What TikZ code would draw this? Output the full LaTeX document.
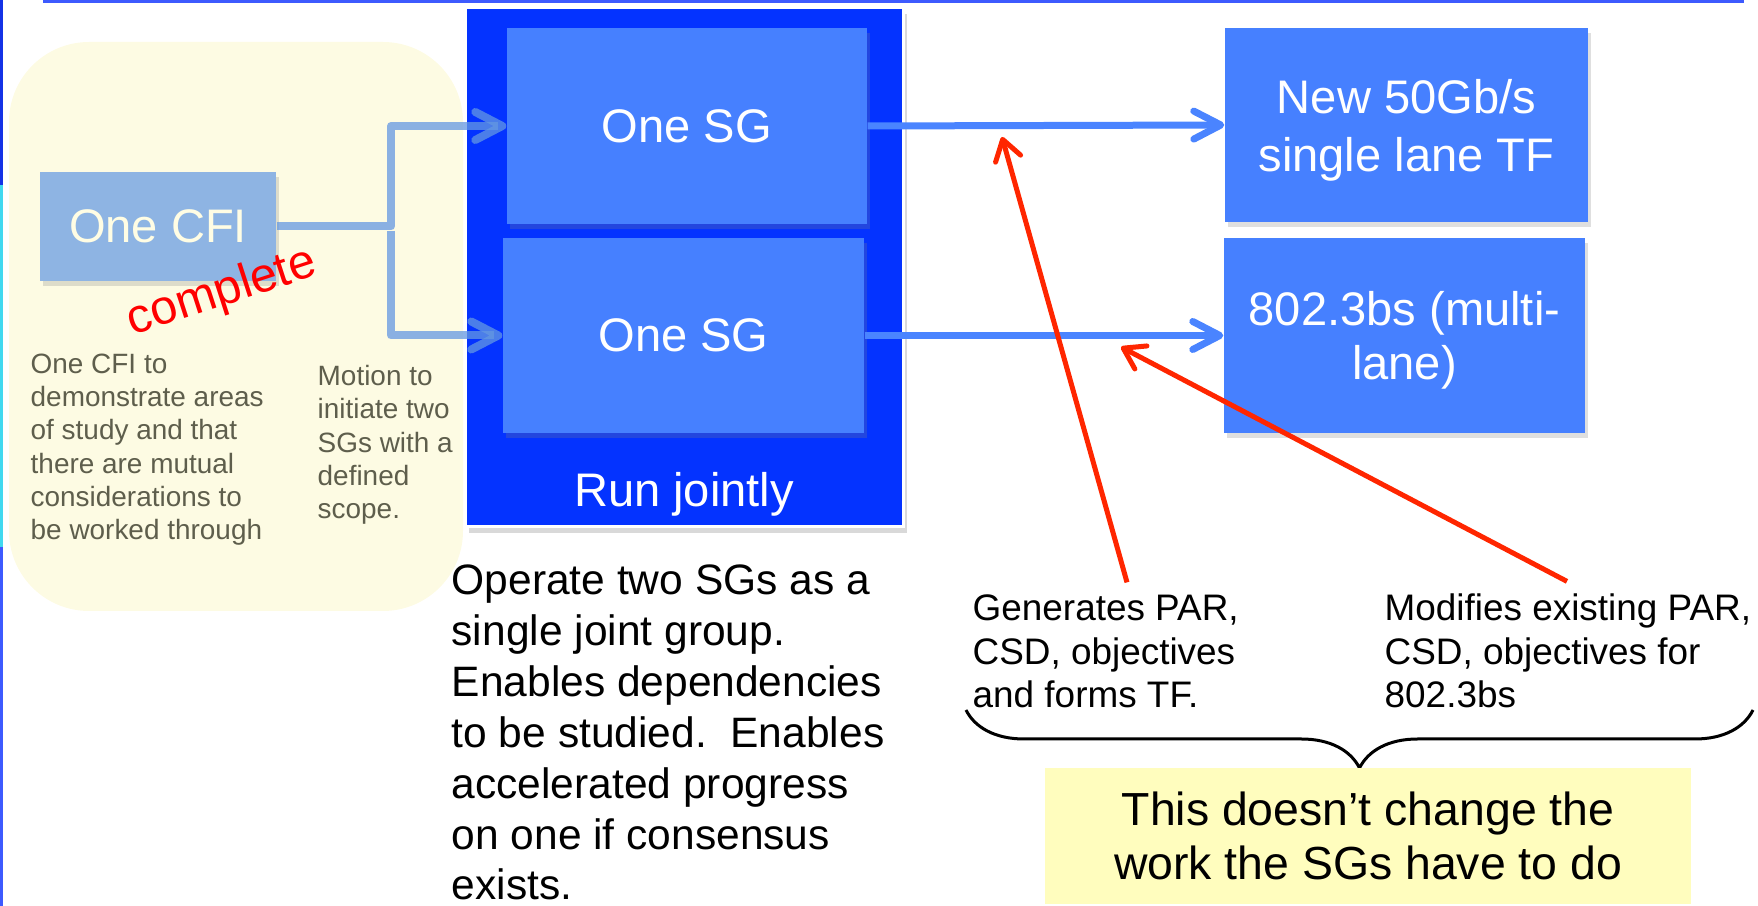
\documentclass[tikz,border=0pt]{standalone}
\usepackage{fontspec}
\setmainfont{Liberation Sans}
\usetikzlibrary{arrows.meta,positioning,shadows,decorations.pathreplacing}
\definecolor{creamfill}{HTML}{FDFBE3}
\definecolor{cfiblue}{HTML}{8EB4E3}
\definecolor{cfitext}{HTML}{FFFDE4}
\definecolor{jointblue}{HTML}{0433FF}
\definecolor{sgblue}{HTML}{4680FF}
\definecolor{linkblue}{HTML}{4A84FF}
\definecolor{feedblue}{HTML}{6498E2}
\definecolor{hintred}{HTML}{FF2600}
\definecolor{notegray}{HTML}{5E5E4C}
\definecolor{noteyellow}{HTML}{FFFDBE}
\definecolor{rimblue}{HTML}{3D5AFE}
\definecolor{rimdark}{HTML}{1432E6}
\definecolor{rimcyan}{HTML}{40D8F0}

\begin{document}
\begin{tikzpicture}[x=0.1mm,y=-0.1mm,
  box/.style={fill=sgblue,text=white,inner sep=0pt,align=center,text depth=0pt,font=\fontsize{13.4}{15.5}\selectfont,
    drop shadow={shadow xshift=0.3mm,shadow yshift=-0.5mm,opacity=0.25}},
  note/.style={anchor=base west,inner sep=0pt,align=left,text=notegray,font=\fontsize{7.95}{9.5}\selectfont},
  body/.style={anchor=base west,inner sep=0pt,align=left,font=\fontsize{10.5}{12.4}\selectfont},
  feed/.style={draw=feedblue,line width=0.8mm,draw opacity=0.75,line join=round,-{Straight Barb[length=2.7mm,width=2.8mm,round]}},
  link/.style={draw=linkblue,line width=0.7mm,-{Straight Barb[length=2.7mm,width=2.8mm,round]}},
  hint/.style={draw=hintred,line width=0.5mm,-{Straight Barb[length=2mm,width=2.6mm,round]}}]
\useasboundingbox (0,0) rectangle (1758,906);
% slide edges
\fill[rimblue] (43,0) rectangle (1744,3);
\fill[rimdark] (0,0) rectangle (3,185);
\fill[rimcyan] (0,185) rectangle (3,547);
\fill[rimblue] (0,547) rectangle (3,906);
% CFI zone (text nodes sit on their last baseline)
\fill[creamfill,rounded corners=8mm] (9,42) rectangle (463,611);
\node[box,fill=cfiblue,text=cfitext,minimum width=23.6mm,minimum height=10.9mm] (cfi) at (158,226.5) {One CFI};
\node[rotate=18,text=red,font=\fontsize{13.8}{16}\selectfont] (done) at (222,293) {complete};
\node[note] (cfinote) at (30,540) {One CFI to\\demonstrate areas\\of study and that\\there are mutual\\considerations to\\be worked through};
\node[note] (motnote) at (317,519) {Motion to\\initiate two\\SGs with a\\defined\\scope.};
% joint SGs
\node[draw=white,line width=0.3mm,fill=jointblue,minimum width=43.8mm,minimum height=51.9mm,
  drop shadow={shadow xshift=0.4mm,shadow yshift=-0.6mm,opacity=0.3}] (joint) at (684,267.5) {};
\node[box,minimum width=36mm,minimum height=19.6mm] (sg1) at (687,126) {One SG};
\node[box,minimum width=36.1mm,minimum height=19.5mm] (sg2) at (683.5,335.5) {One SG};
\node[anchor=base,text=white,font=\fontsize{13.4}{16}\selectfont] (runlbl) at (684,507) {Run jointly};
\node[body,font=\fontsize{12.1}{14.5}\selectfont] (opnote) at (451,900) {Operate two SGs as a\\single joint group.\\Enables dependencies\\to be studied.\ \ Enables\\accelerated progress\\on one if consensus\\exists.};
% outcomes
\node[box,minimum width=36.3mm,minimum height=19.4mm,font=\fontsize{13.4}{16.5}\selectfont] (tf) at (1406.5,125) {New 50Gb/s\\single lane TF};
\node[box,minimum width=36.1mm,minimum height=19.5mm] (bs) at (1404.5,335.5) {802.3bs (multi-\\lane)};
% connectors
\coordinate (split) at (391,226.5);
\coordinate (splitlow) at (391,231);
\draw[feed] (cfi.east) -- (split) |- (sg1.west);
\draw[feed] (splitlow) |- (sg2.west);
\foreach \x/\y in {sg1/tf,sg2/bs} \draw[link] (\x.east) -- (\y.west);
% what each SG does
\node[body] (gennote) at (972,708) {Generates PAR,\\CSD, objectives\\and forms TF.};
\node[body] (modnote) at (1384,708) {Modifies existing PAR,\\CSD, objectives for\\802.3bs};
\coordinate (tfhit) at (1002,137);
\coordinate (bshit) at (1121,347);
\draw[hint] ([shift={(155,-12)}]gennote.north west) -- (tfhit);
\draw[hint] ([shift={(183,-12)}]modnote.north west) -- (bshit);
\coordinate (bracel) at (966,710);
\coordinate (bracer) at (1753,710);
\draw[line width=0.3mm,decorate,decoration={brace,amplitude=5.8mm,mirror}] (bracel) -- (bracer);
\node[fill=noteyellow,minimum width=64.6mm,minimum height=13.6mm,align=center,
  font=\fontsize{13.2}{15.6}\selectfont] (impact) at (1368,836) {This doesn’t change the\\work the SGs have to do};
\end{tikzpicture}
\end{document}
